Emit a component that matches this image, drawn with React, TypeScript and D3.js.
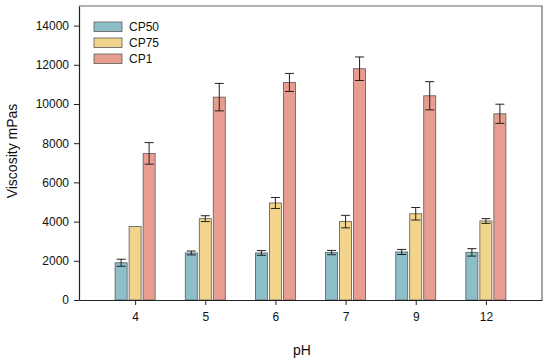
import React, { useEffect, useRef } from "react";
import * as d3 from "d3";

const categories = ["4", "5", "6", "7", "9", "12"];
const seriesNames = ["CP50", "CP75", "CP1"];
const cp50 = [1900, 2400, 2400, 2420, 2450, 2430];
const cp50Err = [180, 100, 120, 110, 130, 190];
const cp75 = [3750, 4150, 4950, 4000, 4400, 4030];
const cp75Err = [0, 150, 280, 320, 320, 120];
const cp1 = [7480, 10350, 11100, 11800, 10420, 9500];
const cp1Err = [550, 700, 460, 600, 720, 490];
const yTicks = [0, 2000, 4000, 6000, 8000, 10000, 12000, 14000];
const colors = ["#8dbfc9", "#f3d48c", "#e79d8f"];

const App = () => {
  const svgEl = useRef<SVGSVGElement>(null);

  useEffect(() => {
    const width = 550,
      height = 363;
    const margin = { top: 6, right: 8, bottom: 63, left: 79 };
    const font = "Arial, 'Liberation Sans', sans-serif";

    const svg = d3.select(svgEl.current);
    svg.selectAll("*").remove();

    const x = d3
      .scalePoint()
      .domain(categories)
      .range([margin.left, width - margin.right])
      .padding(0.8);

    const y = d3
      .scaleLinear()
      .domain([0, 15000])
      .range([height - margin.bottom, margin.top]);

    const barW = 12;
    const offsets = [-14, 0, 14];

    const series = [
      { vals: cp50, errs: cp50Err },
      { vals: cp75, errs: cp75Err },
      { vals: cp1, errs: cp1Err },
    ];

    // frame (top + right lighter)
    svg
      .append("path")
      .attr(
        "d",
        `M${margin.left},${margin.top}H${width - margin.right}V${height - margin.bottom}`
      )
      .attr("fill", "none")
      .attr("stroke", "#666")
      .attr("stroke-width", 1.2);

    series.forEach((s, si) => {
      const g = svg.append("g");
      g.selectAll("rect")
        .data(s.vals)
        .enter()
        .append("rect")
        .attr("x", (d, i) => x(categories[i])! + offsets[si] - barW / 2)
        .attr("y", (d) => y(d))
        .attr("width", barW)
        .attr("height", (d) => y(0) - y(d))
        .attr("fill", colors[si])
        .attr("stroke", "#5a5a5a")
        .attr("stroke-width", 0.8);

      g.selectAll(".err")
        .data(s.vals)
        .enter()
        .append("g")
        .each(function (d, i) {
          const e = s.errs[i];
          if (!e) return;
          const cx = x(categories[i])! + offsets[si];
          const gg = d3.select(this);
          gg.append("line")
            .attr("x1", cx)
            .attr("x2", cx)
            .attr("y1", y(d - e))
            .attr("y2", y(d + e))
            .attr("stroke", "#222")
            .attr("stroke-width", 1);
          [d - e, d + e].forEach((v) => {
            gg.append("line")
              .attr("x1", cx - 4.5)
              .attr("x2", cx + 4.5)
              .attr("y1", y(v))
              .attr("y2", y(v))
              .attr("stroke", "#222")
              .attr("stroke-width", 1);
          });
        });
    });

    // y axis
    const yAxis = svg
      .append("g")
      .attr("transform", `translate(${margin.left},0)`)
      .call(
        d3
          .axisLeft(y)
          .tickValues(yTicks)
          .tickFormat(d3.format("d"))
          .tickSize(5)
          .tickSizeOuter(0)
          .tickPadding(5)
      );
    yAxis.select(".domain").attr("stroke", "#222").attr("stroke-width", 1.2);
    yAxis.selectAll("line").attr("stroke", "#222");
    yAxis
      .selectAll("text")
      .attr("font-family", font)
      .attr("font-size", 12)
      .attr("fill", "#111");

    // x axis
    const xAxis = svg
      .append("g")
      .attr("transform", `translate(0,${y(0)})`)
      .call(d3.axisBottom(x).tickSize(5).tickSizeOuter(0).tickPadding(7));
    xAxis.select(".domain").attr("stroke", "#222").attr("stroke-width", 1.2);
    xAxis.selectAll("line").attr("stroke", "#222");
    xAxis
      .selectAll("text")
      .attr("font-family", font)
      .attr("font-size", 12)
      .attr("fill", "#111");

    // axis titles
    svg
      .append("text")
      .attr("x", 302)
      .attr("y", 355)
      .attr("text-anchor", "middle")
      .attr("font-family", font)
      .attr("font-size", 14)
      .attr("fill", "#111")
      .text("pH");

    svg
      .append("text")
      .attr("transform", `translate(17,151) rotate(-90)`)
      .attr("text-anchor", "middle")
      .attr("font-family", font)
      .attr("font-size", 14)
      .attr("fill", "#111")
      .text("Viscosity mPas");

    // legend
    const legend = svg.append("g").attr("transform", "translate(94,22)");
    seriesNames.forEach((name, i) => {
      legend
        .append("rect")
        .attr("x", 0)
        .attr("y", i * 16)
        .attr("width", 28)
        .attr("height", 9.5)
        .attr("fill", colors[i])
        .attr("stroke", "#5a5a5a")
        .attr("stroke-width", 0.8);
      legend
        .append("text")
        .attr("x", 35)
        .attr("y", i * 16 + 9)
        .attr("font-family", font)
        .attr("font-size", 12)
        .attr("fill", "#111")
        .text(name);
    });
  }, [svgEl]);

  return (
    <svg
      ref={svgEl}
      width={550}
      height={363}
      style={{ position: "absolute", left: 0, top: 0, background: "#fff" }}
    ></svg>
  );
};

export default App;
